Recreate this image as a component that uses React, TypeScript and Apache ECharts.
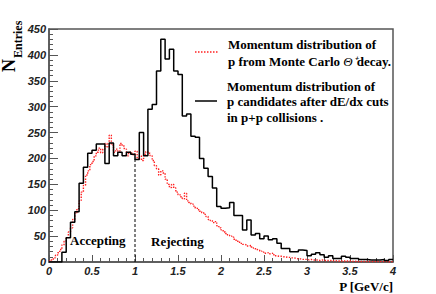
import React, { useEffect, useRef } from "react";
import * as echarts from "echarts";

// Black histogram: momentum of p candidates after dE/dx cuts (bins of 0.05 GeV/c, 0 -> 4)
const candidates = [
  0, 0, 0, 19, 47, 77, 97, 152, 183, 210,
  216, 228, 228, 190, 230, 205, 212, 205, 212, 208,
  198, 250, 205, 295, 304, 369, 430, 392, 411, 369,
  362, 282, 286, 243, 241, 200, 181, 165, 143, 107,
  104, 105, 115, 90, 90, 62, 81, 52, 55, 45,
  50, 43, 45, 36, 26, 26, 20, 20, 23, 22,
  12, 15, 18, 14, 9, 12, 7, 7, 11, 9,
  7, 7, 5, 5, 4, 4, 4, 5, 3, 5,
];

// Red dotted histogram: Monte Carlo decay protons (bins of 0.025 GeV/c, 0 -> 4)
const monteCarlo = [
  2, 4, 8, 13, 18, 24, 33, 40, 47, 58,
  66, 82, 95, 103, 118, 135, 148, 168, 176, 188,
  194, 205, 212, 220, 211, 218, 229, 222, 245, 226,
  212, 218, 214, 229, 224, 218, 205, 212, 210, 207,
  214, 200, 205, 196, 208, 213, 210, 205, 196, 186,
  180, 168, 176, 172, 160, 150, 144, 150, 143, 135,
  130, 126, 122, 133, 118, 115, 112, 108, 104, 101,
  98, 95, 92, 88, 82, 80, 76, 78, 70, 66,
  62, 58, 55, 52, 50, 48, 44, 40, 38, 36,
  34, 33, 31, 32, 29, 27, 24, 23, 21, 19,
  17, 18, 16, 17, 14, 12, 11, 11, 10, 10,
  9, 9, 8, 8, 7, 6, 6, 5, 5, 5,
  4, 5, 4, 4, 4, 3, 4, 3, 3, 3,
  3, 2, 3, 2, 2, 2, 2, 2, 2, 2,
  1, 2, 1, 1, 1, 1, 1, 1, 1, 1,
  1, 1, 1, 1, 1, 1, 1, 0, 1, 0,
];

const X_MIN = 0;
const X_MAX = 4;
const cutValue = 1.0;
const cutLineTop = 200;

const legendMC = ["Momentum distribution of", "p from Monte Carlo "];
const legendCand = ["Momentum distribution of", "p candidates after dE/dx cuts", "in p+p collisions ."];

function histPoints(vals: number[]): number[][] {
  const w = (X_MAX - X_MIN) / vals.length;
  const pts = vals.map((v, i) => [X_MIN + i * w, v]);
  pts.push([X_MAX, vals[vals.length - 1]]);
  return pts;
}

export default function App() {
  const ref = useRef<HTMLDivElement>(null);
  useEffect(() => {
    if (!ref.current) return;
    const chart = echarts.init(ref.current, undefined, { renderer: "svg" });
    const serif = "'Liberation Serif', 'Times New Roman', serif";
    const labelFont = {
      fontFamily: "'Liberation Sans', Arial, sans-serif",
      fontWeight: "bold" as const,
      fontStyle: "italic" as const,
      fontSize: 11,
      color: "#222",
    };
    const legendText = (x: number, y: number, text: string) => ({
      type: "text",
      x,
      y,
      style: { text, font: `bold 13px ${serif}`, fill: "#000", verticalAlign: "middle", align: "left" },
    });
    chart.setOption({
      animation: false,
      backgroundColor: "#fff",
      grid: {
        left: 49,
        right: 43,
        top: 29,
        bottom: 32,
        show: true,
        borderColor: "#555",
        borderWidth: 1.5,
        backgroundColor: "transparent",
      },
      xAxis: {
        type: "value",
        min: X_MIN,
        max: X_MAX,
        interval: 0.5,
        axisLine: { show: true, lineStyle: { color: "#555", width: 1.5 } },
        axisTick: { show: true, inside: true, length: 7, lineStyle: { color: "#555" } },
        minorTick: { show: true, splitNumber: 5, length: 4, lineStyle: { color: "#555" } },
        splitLine: { show: false },
        axisLabel: { ...labelFont, margin: 3 },
      },
      yAxis: {
        type: "value",
        min: 0,
        max: 450,
        interval: 50,
        axisLine: { show: true, lineStyle: { color: "#555", width: 1.5 } },
        axisTick: { show: true, inside: true, length: 9, lineStyle: { color: "#555" } },
        minorTick: { show: true, splitNumber: 5, length: 4, lineStyle: { color: "#555" } },
        splitLine: { show: false },
        axisLabel: { ...labelFont, margin: 3 },
      },
      series: [
        {
          name: "Monte Carlo",
          type: "line",
          step: "end",
          symbol: "none",
          data: histPoints(monteCarlo),
          lineStyle: { color: "#ff2020", width: 1.4, type: "dotted" },
          z: 2,
        },
        {
          name: "Candidates",
          type: "line",
          step: "end",
          symbol: "none",
          data: histPoints(candidates),
          lineStyle: { color: "#000", width: 1.5 },
          z: 3,
        },
        {
          name: "Cut",
          type: "line",
          symbol: "none",
          data: [
            [cutValue, 0],
            [cutValue, cutLineTop],
          ],
          lineStyle: { color: "#000", width: 1, type: [3, 2] },
          z: 1,
        },
      ],
      graphic: [
        {
          type: "text",
          x: 9,
          y: 72,
          rotation: Math.PI / 2,
          style: { text: "N", font: `bold 18px ${serif}`, fill: "#000", align: "left", verticalAlign: "middle" },
        },
        {
          type: "text",
          x: 17.5,
          y: 58,
          rotation: Math.PI / 2,
          style: { text: "Entries", font: `bold 12px ${serif}`, fill: "#000", align: "left", verticalAlign: "middle" },
        },
        {
          type: "text",
          x: 393,
          y: 286,
          style: {
            text: "P [GeV/c]",
            font: `bold 13px ${serif}`,
            fill: "#000",
            align: "right",
            verticalAlign: "middle",
          },
        },
        {
          type: "line",
          shape: { x1: 195, y1: 52, x2: 219, y2: 52 },
          style: { stroke: "#ff2020", lineWidth: 1.4, lineDash: [1.5, 1.5] },
        },
        legendText(228, 44, legendMC[0]),
        {
          type: "text",
          x: 228,
          y: 61,
          style: {
            text: `{a|${legendMC[1]}}{b|Θ⁺}{a|decay.}`,
            verticalAlign: "middle",
            rich: {
              a: { font: `bold 13px ${serif}`, fill: "#000" },
              b: { font: `italic 13px ${serif}`, fill: "#000" },
            },
          },
        },
        {
          type: "line",
          shape: { x1: 195, y1: 101, x2: 217, y2: 101 },
          style: { stroke: "#000", lineWidth: 1.5 },
        },
        legendText(227, 86, legendCand[0]),
        legendText(227, 101, legendCand[1]),
        legendText(227, 117, legendCand[2]),
        {
          type: "text",
          x: 70,
          y: 240,
          style: { text: "Accepting", font: `bold 13px ${serif}`, fill: "#000", verticalAlign: "middle" },
        },
        {
          type: "text",
          x: 151,
          y: 241,
          style: { text: "Rejecting", font: `bold 13px ${serif}`, fill: "#000", verticalAlign: "middle" },
        },
      ],
    });
    return () => chart.dispose();
  }, []);
  return (
    <div
      ref={ref}
      style={{ position: "fixed", left: 0, top: 0, width: 436, height: 294, background: "#fff" }}
    />
  );
}
